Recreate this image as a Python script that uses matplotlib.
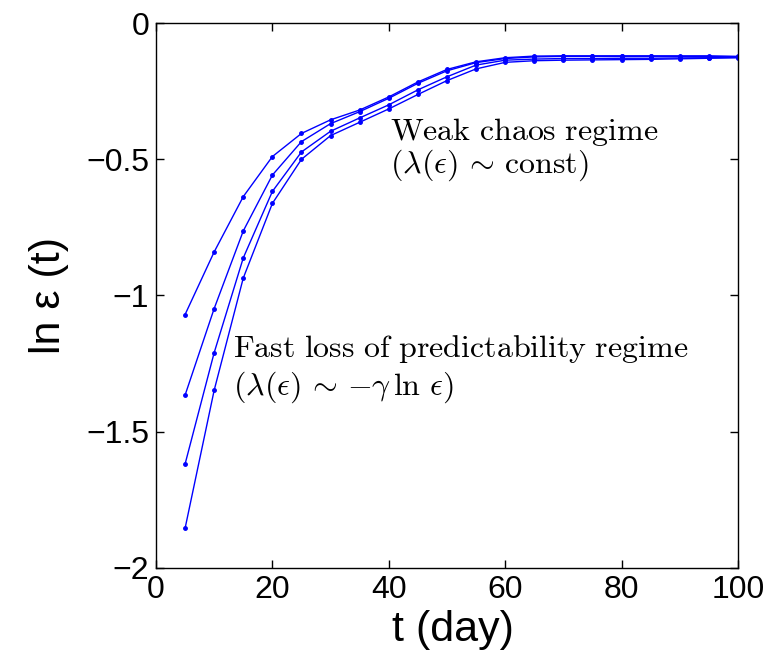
import numpy as np
import matplotlib
matplotlib.use("Agg")
import matplotlib.pyplot as plt

plt.rcParams['mathtext.fontset'] = 'cm'
plt.rcParams['font.family'] = ['Liberation Sans', 'DejaVu Sans']

# time in days
t = [5, 10, 15, 20, 25, 30, 35, 40, 45, 50,
     55, 60, 65, 70, 75, 80, 85, 90, 95, 100]

# ln eps(t) for four initial error sizes
curve1 = [-1.07, -0.84, -0.637, -0.49, -0.405, -0.355, -0.319, -0.271, -0.216, -0.17,
          -0.142, -0.127, -0.121, -0.12, -0.12, -0.12, -0.12, -0.12, -0.12, -0.122]
curve2 = [-1.366, -1.048, -0.763, -0.558, -0.435, -0.369, -0.325, -0.276, -0.221, -0.175,
          -0.145, -0.13, -0.124, -0.122, -0.122, -0.122, -0.122, -0.123, -0.123, -0.124]
curve3 = [-1.619, -1.21, -0.862, -0.618, -0.473, -0.397, -0.348, -0.30, -0.245, -0.197,
          -0.154, -0.136, -0.132, -0.13, -0.13, -0.129, -0.129, -0.128, -0.127, -0.126]
curve4 = [-1.855, -1.348, -0.936, -0.662, -0.50, -0.413, -0.364, -0.315, -0.262, -0.211,
          -0.168, -0.144, -0.138, -0.136, -0.135, -0.134, -0.133, -0.131, -0.129, -0.127]

xticks = [0, 20, 40, 60, 80, 100]
yticks = [-2, -1.5, -1, -0.5, 0]
ytick_labels = ["\u22122", "\u22121.5", "\u22121", "\u22120.5", "0"]

fig = plt.figure(figsize=(7.76, 6.61), dpi=100)
ax = fig.add_axes([0.201, 0.141, 0.75, 0.824])

for c in [curve1, curve2, curve3, curve4]:
    ax.plot(t, c, color=(0, 0, 1), linewidth=1.0, marker='.', markersize=5)

ax.set_xlim(0, 100)
ax.set_ylim(-2, 0)
ax.set_xticks(xticks)
ax.set_yticks(yticks)
ax.set_yticklabels(ytick_labels)
ax.tick_params(direction='in', length=6, width=1, top=True, right=True,
               labelsize=23, pad=5)
for s in ax.spines.values():
    s.set_linewidth(1.0)

ax.set_xlabel("t (day)", fontsize=31)
ax.set_ylabel("ln \u03b5 (t)", fontsize=31)
ax.xaxis.set_label_coords(0.51, -0.078)
ax.yaxis.set_label_coords(-0.15, 0.5)

fs = 23
ax.text(40.2, -0.429, r"$\mathrm{Weak\ chaos\ regime}$", fontsize=fs)
ax.text(40.2, -0.549, r"$(\lambda(\epsilon)\,\sim\,\mathrm{const})$", fontsize=fs)
ax.text(13.2, -1.227, r"$\mathrm{Fast\ loss\ of\ predictability\ regime}$", fontsize=fs)
ax.text(13.2, -1.363, r"$(\lambda(\epsilon)\,\sim\,{-}\gamma\,\ln\,\epsilon)$", fontsize=fs)

fig.savefig("out.png", dpi=100)
